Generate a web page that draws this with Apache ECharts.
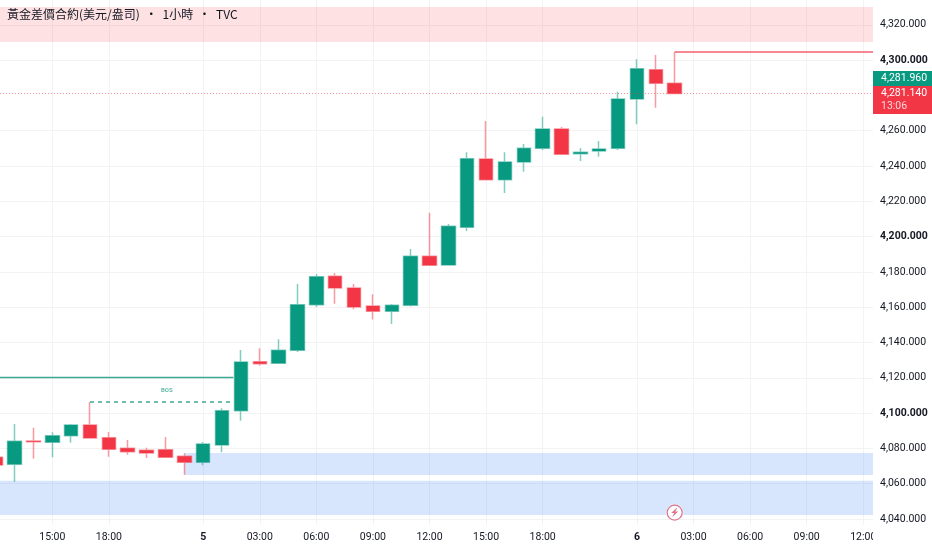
<!DOCTYPE html>
<html><head><meta charset="utf-8">
<style>html,body{margin:0;padding:0;background:#fff}#c{width:932px;height:550px}</style>
<script src="https://cdn.jsdelivr.net/npm/echarts@6/dist/echarts.min.js"></script>
</head><body><div id="c"></div>
<script>
const titleText = '黃金差價合約(美元/盎司)  •  1小時  •  TVC';
const candleOpen  = [4075.0,4071.0,4084.2,4083.5,4087.2,4093.3,4086.1,4080.1,4078.9,4079.3,4075.5,4072.1,4081.9,4101.4,4129.1,4128.2,4135.6,4161.4,4177.5,4170.9,4160.7,4157.7,4161.1,4188.8,4183.9,4205.3,4244.0,4232.2,4242.3,4250.0,4261.0,4247.0,4248.5,4250.0,4278.0,4294.6,4286.9];
const candleClose = [4070.6,4084.0,4083.8,4087.2,4093.3,4085.9,4079.5,4078.1,4077.4,4075.0,4072.1,4082.5,4101.4,4129.0,4128.0,4135.6,4161.4,4177.3,4170.9,4160.1,4157.7,4161.1,4188.8,4183.7,4205.8,4244.1,4232.2,4242.3,4250.0,4261.0,4246.6,4247.8,4249.6,4278.0,4295.1,4286.9,4281.14];
const candleLow   = [4069.0,4061.1,4074.2,4075.0,4083.2,4085.7,4075.3,4076.4,4074.6,4074.9,4065.1,4070.4,4077.8,4095.7,4126.9,4128.1,4134.6,4160.1,4162.0,4158.8,4153.1,4150.5,4160.4,4183.3,4183.7,4203.2,4232.0,4224.7,4236.8,4249.1,4246.5,4242.8,4245.3,4249.1,4263.6,4273.0,4281.0];
const candleHigh  = [4076.0,4093.8,4091.7,4089.1,4093.8,4106.3,4089.3,4084.8,4080.4,4086.5,4077.2,4083.6,4102.7,4135.8,4136.7,4141.8,4173.1,4178.8,4179.4,4173.1,4167.3,4161.8,4193.0,4213.5,4207.1,4247.8,4265.5,4247.8,4252.5,4267.9,4262.1,4250.2,4254.2,4282.1,4300.5,4302.9,4304.6];
const xTickIndex  = [0,3,6,11,14,17,20,23,26,29,34,37,40,43,46];
const xTickLabels = ['12:00','15:00','18:00','5','03:00','06:00','09:00','12:00','15:00','18:00','6','03:00','06:00','09:00','12:00'];
const xBoldLabels = ['5','6'];
const yTicks = [4040,4060,4080,4100,4120,4140,4160,4180,4200,4220,4240,4260,4300,4320];
const yBold = [4100,4200,4300];
const pinkZone = [4330.1,4310.3];
const blueZoneA = {fromIndex:10, top:4077.4, bottom:4064.9};
const blueZoneB = {top:4061.7, bottom:4042.3};
const prevHighLine = {y:4120.2, to:12.6};
const bosLine = {y:4106.3, from:5, to:12.5};
const bosLabel = {text:'BOS', x:9.07, y:4113};
const redLine = {y:4304.6, from:36};
const bidPrice = '4,281.960', lastPrice = 4281.14, lastLabel='4,281.140', countdown='13:06';
const eventMark = {x:36, y:4043.6};
const xMin=0.227, xMax=46.516, yMin=4036.6, yMax=4334.05;

const UP='#089981', DOWN='#F23645', TXT='#131722', GRID='#f3f3f4', FONT='Roboto,"Liberation Sans",Arial,sans-serif';
const rows = candleOpen.map((o,i)=>[i,o,candleClose[i],candleLow[i],candleHigh[i]]);
const fmt = v => v.toLocaleString('en-US',{minimumFractionDigits:3,maximumFractionDigits:3});
const chart = echarts.init(document.getElementById('c'),null,{renderer:'canvas'});
chart.setOption({
  animation:false,
  backgroundColor:'#fff',
  title:{text:titleText,left:7,top:8,padding:0,textStyle:{fontFamily:'"Noto Sans CJK TC",sans-serif',fontSize:12,fontWeight:'normal',color:TXT}},
  grid:{left:0,top:0,width:873,height:525,containLabel:false},
  xAxis:{type:'value',min:xMin,max:xMax,
    axisLine:{show:false},axisTick:{show:false,customValues:xTickIndex},
    splitLine:{show:true,lineStyle:{color:GRID,width:1}},
    axisLabel:{customValues:xTickIndex,margin:7,color:TXT,fontFamily:FONT,fontSize:10.5,
      showMinLabel:true,showMaxLabel:true,hideOverlap:false,
      formatter:v=>{const l=xTickLabels[xTickIndex.indexOf(v)];return xBoldLabels.includes(l)?'{b|'+l+'}':l;},
      rich:{b:{fontWeight:'bold',fontSize:10.5,fontFamily:FONT,color:TXT}}}},
  yAxis:{type:'value',position:'right',min:yMin,max:yMax,scale:true,
    axisLine:{show:false},axisTick:{show:false,customValues:yTicks},
    splitLine:{show:true,lineStyle:{color:GRID,width:1}},
    axisLabel:{customValues:yTicks,margin:7,color:TXT,fontFamily:FONT,fontSize:10.5,align:'left',
      showMinLabel:true,showMaxLabel:true,
      formatter:v=>yBold.includes(v)?'{b|'+fmt(v)+'}':fmt(v),
      rich:{b:{fontWeight:'bold',fontSize:10.5,fontFamily:FONT,color:TXT}}}},
  series:[
    {type:'candlestick',data:rows,barWidth:14,clip:true,
      itemStyle:{color:UP,color0:DOWN,borderColor:'rgba(8,153,129,0.5)',borderColor0:'rgba(242,54,69,0.5)',borderWidth:1.5},
      markArea:{silent:true,data:[
        [{xAxis:xMin,yAxis:pinkZone[0],itemStyle:{color:'rgba(242,54,69,0.15)'}},{xAxis:xMax,yAxis:pinkZone[1]}],
        [{xAxis:blueZoneA.fromIndex,yAxis:blueZoneA.top,itemStyle:{color:'rgba(41,120,245,0.19)'}},{xAxis:xMax,yAxis:blueZoneA.bottom}],
        [{xAxis:xMin,yAxis:blueZoneB.top,itemStyle:{color:'rgba(41,120,245,0.19)'}},{xAxis:xMax,yAxis:blueZoneB.bottom}]
      ]},
      markLine:{silent:true,symbol:'none',label:{show:false},lineStyle:{color:DOWN,type:[1,2],width:1,opacity:.55},data:[{yAxis:lastPrice}]}
    },
    {type:'line',data:[[xMin,prevHighLine.y],[prevHighLine.to,prevHighLine.y]],symbol:'none',silent:true,lineStyle:{color:'#3fa893',width:1.4}},
    {type:'line',data:[[bosLine.from,bosLine.y],[bosLine.to,bosLine.y]],symbol:'none',silent:true,lineStyle:{color:'#3fa893',width:1.4,type:[4,4]}},
    {type:'line',data:[[redLine.from,redLine.y],[xMax,redLine.y]],symbol:'none',silent:true,lineStyle:{color:'#f2606e',width:1.4}},
    {type:'scatter',data:[[bosLabel.x,bosLabel.y]],symbolSize:0,silent:true,label:{show:true,formatter:bosLabel.text,position:'inside',color:'#3fa893',fontSize:6,fontWeight:'bold',fontFamily:FONT}},
    {type:'scatter',data:[[eventMark.x,eventMark.y]],symbol:'circle',symbolSize:15,silent:true,z:5,itemStyle:{color:'#fff',borderColor:'#d4536f',borderWidth:1.2,shadowColor:'#fff',shadowBlur:2}},
    {type:'scatter',data:[[eventMark.x,eventMark.y]],symbol:'path://M6 0 L1 6 L4 6 L2 11 L8 4 L5 4 L7 0 Z',symbolSize:[7,9],silent:true,z:6,itemStyle:{color:'#d4536f'}}
  ]
});
const py = chart.convertToPixel({yAxisIndex:0},lastPrice);
chart.setOption({graphic:[
  {type:'rect',z:50,shape:{x:873,y:525,width:7,height:25},style:{fill:'#fff'}},
  {type:'rect',z:50,shape:{x:873,y:py-22.5,width:59,height:15},style:{fill:UP}},
  {type:'text',z:51,x:881,y:py-15,style:{text:bidPrice,fill:'#fff',font:'10.5px '+FONT,verticalAlign:'middle'}},
  {type:'rect',z:50,shape:{x:873,y:py-7.5,width:59,height:28},style:{fill:DOWN}},
  {type:'text',z:51,x:881,y:py,style:{text:lastLabel,fill:'#fff',font:'10.5px '+FONT,verticalAlign:'middle'}},
  {type:'text',z:51,x:881,y:py+12.5,style:{text:countdown,fill:'#ffd5d8',font:'10.5px '+FONT,verticalAlign:'middle'}}
]});
</script></body></html>
